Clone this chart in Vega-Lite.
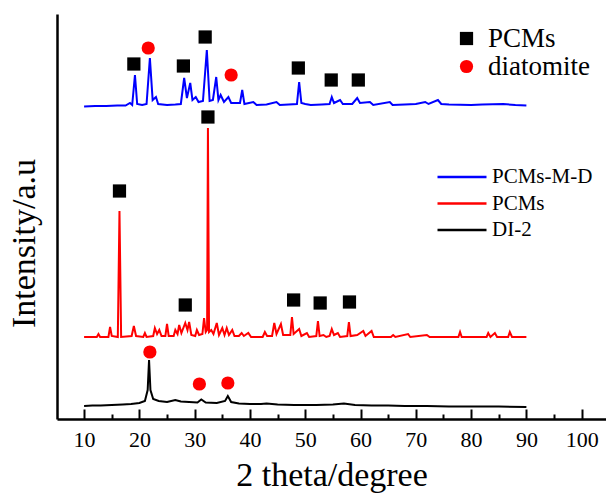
{
  "$schema": "https://vega.github.io/schema/vega-lite/v6.json",
  "width": 549,
  "height": 405,
  "autosize": "none",
  "padding": {"left": 57, "top": 14, "right": 0, "bottom": 76},
  "background": "white",
  "config": {"view": {"stroke": null}, "font": "Liberation Serif"},
  "datasets": {
    "xrd": [
      {"x": 10, "y": 13, "s": "DI-2"}, {"x": 11.5, "y": 13.5, "s": "DI-2"}, {"x": 13, "y": 13.5, "s": "DI-2"}, {"x": 15, "y": 14, "s": "DI-2"}, {"x": 17, "y": 14.5, "s": "DI-2"}, {"x": 18.5, "y": 15, "s": "DI-2"}, {"x": 20, "y": 16, "s": "DI-2"}, {"x": 21, "y": 18, "s": "DI-2"}, {"x": 21.5, "y": 29, "s": "DI-2"}, {"x": 21.75, "y": 59, "s": "DI-2"}, {"x": 22.0, "y": 29, "s": "DI-2"}, {"x": 22.5, "y": 20, "s": "DI-2"}, {"x": 23.5, "y": 18, "s": "DI-2"}, {"x": 25, "y": 17, "s": "DI-2"}, {"x": 26.5, "y": 19, "s": "DI-2"}, {"x": 27.5, "y": 17.5, "s": "DI-2"}, {"x": 29, "y": 17, "s": "DI-2"}, {"x": 30.5, "y": 16.5, "s": "DI-2"}, {"x": 31.2, "y": 19.5, "s": "DI-2"}, {"x": 32, "y": 16.5, "s": "DI-2"}, {"x": 34, "y": 16, "s": "DI-2"}, {"x": 35.5, "y": 18, "s": "DI-2"}, {"x": 36.0, "y": 23, "s": "DI-2"}, {"x": 36.6, "y": 17, "s": "DI-2"}, {"x": 38, "y": 15.5, "s": "DI-2"}, {"x": 40, "y": 15, "s": "DI-2"}, {"x": 42, "y": 15, "s": "DI-2"}, {"x": 43, "y": 15.5, "s": "DI-2"}, {"x": 45, "y": 14.5, "s": "DI-2"}, {"x": 48, "y": 14, "s": "DI-2"}, {"x": 52, "y": 14, "s": "DI-2"}, {"x": 55, "y": 14.5, "s": "DI-2"}, {"x": 57, "y": 15.5, "s": "DI-2"}, {"x": 59, "y": 14, "s": "DI-2"}, {"x": 62, "y": 13.5, "s": "DI-2"}, {"x": 65, "y": 13.5, "s": "DI-2"}, {"x": 68, "y": 13, "s": "DI-2"}, {"x": 72, "y": 13, "s": "DI-2"}, {"x": 76, "y": 12.5, "s": "DI-2"}, {"x": 80, "y": 12.5, "s": "DI-2"}, {"x": 85, "y": 12.5, "s": "DI-2"}, {"x": 90, "y": 12, "s": "DI-2"},

      {"x": 10, "y": 82, "s": "PCMs"}, {"x": 12.3, "y": 82, "s": "PCMs"}, {"x": 12.6, "y": 85, "s": "PCMs"}, {"x": 12.9, "y": 82, "s": "PCMs"}, {"x": 14.4, "y": 82, "s": "PCMs"}, {"x": 14.7, "y": 92, "s": "PCMs"}, {"x": 15.0, "y": 83, "s": "PCMs"}, {"x": 16.1, "y": 82, "s": "PCMs"}, {"x": 16.4, "y": 208, "s": "PCMs"}, {"x": 16.7, "y": 82, "s": "PCMs"}, {"x": 18.6, "y": 83, "s": "PCMs"}, {"x": 19.0, "y": 93, "s": "PCMs"}, {"x": 19.4, "y": 83, "s": "PCMs"}, {"x": 20.7, "y": 82, "s": "PCMs"}, {"x": 21.0, "y": 86, "s": "PCMs"}, {"x": 21.3, "y": 82, "s": "PCMs"}, {"x": 22.5, "y": 83, "s": "PCMs"}, {"x": 22.8, "y": 91, "s": "PCMs"}, {"x": 23.2, "y": 85, "s": "PCMs"}, {"x": 23.6, "y": 89, "s": "PCMs"}, {"x": 24.0, "y": 83, "s": "PCMs"}, {"x": 24.7, "y": 83, "s": "PCMs"}, {"x": 25.0, "y": 95, "s": "PCMs"}, {"x": 25.3, "y": 83, "s": "PCMs"}, {"x": 26.2, "y": 83, "s": "PCMs"}, {"x": 26.5, "y": 89, "s": "PCMs"}, {"x": 26.9, "y": 85, "s": "PCMs"}, {"x": 27.2, "y": 94, "s": "PCMs"}, {"x": 27.6, "y": 86, "s": "PCMs"}, {"x": 28.3, "y": 96, "s": "PCMs"}, {"x": 28.7, "y": 89, "s": "PCMs"}, {"x": 29.0, "y": 97, "s": "PCMs"}, {"x": 29.4, "y": 84, "s": "PCMs"}, {"x": 30.1, "y": 83, "s": "PCMs"}, {"x": 30.4, "y": 89, "s": "PCMs"}, {"x": 30.8, "y": 84, "s": "PCMs"}, {"x": 31.4, "y": 85, "s": "PCMs"}, {"x": 31.7, "y": 101, "s": "PCMs"}, {"x": 32.0, "y": 87, "s": "PCMs"}, {"x": 32.25, "y": 89, "s": "PCMs"}, {"x": 32.4, "y": 291, "s": "PCMs"}, {"x": 32.6, "y": 87, "s": "PCMs"}, {"x": 33.0, "y": 89, "s": "PCMs"}, {"x": 33.4, "y": 85, "s": "PCMs"}, {"x": 34.0, "y": 96, "s": "PCMs"}, {"x": 34.4, "y": 84, "s": "PCMs"}, {"x": 35.0, "y": 91, "s": "PCMs"}, {"x": 35.4, "y": 84, "s": "PCMs"}, {"x": 35.8, "y": 91, "s": "PCMs"}, {"x": 36.2, "y": 84, "s": "PCMs"}, {"x": 36.8, "y": 89, "s": "PCMs"}, {"x": 37.2, "y": 83, "s": "PCMs"}, {"x": 38.0, "y": 83, "s": "PCMs"}, {"x": 38.5, "y": 86, "s": "PCMs"}, {"x": 38.9, "y": 83, "s": "PCMs"}, {"x": 39.7, "y": 86, "s": "PCMs"}, {"x": 40.2, "y": 82, "s": "PCMs"}, {"x": 42.3, "y": 82, "s": "PCMs"}, {"x": 42.7, "y": 87, "s": "PCMs"}, {"x": 43.1, "y": 83, "s": "PCMs"}, {"x": 44.0, "y": 83, "s": "PCMs"}, {"x": 44.4, "y": 96, "s": "PCMs"}, {"x": 44.8, "y": 85, "s": "PCMs"}, {"x": 45.6, "y": 95, "s": "PCMs"}, {"x": 46.0, "y": 84, "s": "PCMs"}, {"x": 47.3, "y": 84, "s": "PCMs"}, {"x": 47.6, "y": 102, "s": "PCMs"}, {"x": 47.9, "y": 85, "s": "PCMs"}, {"x": 48.9, "y": 90, "s": "PCMs"}, {"x": 49.3, "y": 83, "s": "PCMs"}, {"x": 50.3, "y": 86, "s": "PCMs"}, {"x": 50.7, "y": 82, "s": "PCMs"}, {"x": 52.0, "y": 83, "s": "PCMs"}, {"x": 52.3, "y": 98, "s": "PCMs"}, {"x": 52.6, "y": 83, "s": "PCMs"}, {"x": 53.3, "y": 84, "s": "PCMs"}, {"x": 53.8, "y": 82, "s": "PCMs"}, {"x": 54.4, "y": 83, "s": "PCMs"}, {"x": 54.8, "y": 90, "s": "PCMs"}, {"x": 55.2, "y": 84, "s": "PCMs"}, {"x": 55.9, "y": 86, "s": "PCMs"}, {"x": 56.3, "y": 82, "s": "PCMs"}, {"x": 57.6, "y": 83, "s": "PCMs"}, {"x": 57.9, "y": 97, "s": "PCMs"}, {"x": 58.2, "y": 83, "s": "PCMs"}, {"x": 59.4, "y": 84, "s": "PCMs"}, {"x": 60.5, "y": 88, "s": "PCMs"}, {"x": 60.9, "y": 83, "s": "PCMs"}, {"x": 62.0, "y": 88, "s": "PCMs"}, {"x": 62.4, "y": 82, "s": "PCMs"}, {"x": 65.5, "y": 82, "s": "PCMs"}, {"x": 65.9, "y": 84, "s": "PCMs"}, {"x": 66.3, "y": 82, "s": "PCMs"}, {"x": 68.6, "y": 85, "s": "PCMs"}, {"x": 69.0, "y": 82, "s": "PCMs"}, {"x": 72.0, "y": 84, "s": "PCMs"}, {"x": 72.5, "y": 82, "s": "PCMs"}, {"x": 77.7, "y": 82, "s": "PCMs"}, {"x": 78.0, "y": 87, "s": "PCMs"}, {"x": 78.3, "y": 82, "s": "PCMs"}, {"x": 82.8, "y": 82, "s": "PCMs"}, {"x": 83.1, "y": 86, "s": "PCMs"}, {"x": 83.5, "y": 82, "s": "PCMs"}, {"x": 84.3, "y": 86, "s": "PCMs"}, {"x": 84.7, "y": 82, "s": "PCMs"}, {"x": 86.7, "y": 82, "s": "PCMs"}, {"x": 87.0, "y": 87, "s": "PCMs"}, {"x": 87.4, "y": 82, "s": "PCMs"}, {"x": 90, "y": 82, "s": "PCMs"},

      {"x": 10, "y": 312.5, "s": "PCMs-M-D"}, {"x": 12, "y": 313, "s": "PCMs-M-D"}, {"x": 14, "y": 313, "s": "PCMs-M-D"}, {"x": 16, "y": 313.5, "s": "PCMs-M-D"}, {"x": 17.5, "y": 313.5, "s": "PCMs-M-D"}, {"x": 18.3, "y": 316, "s": "PCMs-M-D"}, {"x": 18.7, "y": 314, "s": "PCMs-M-D"}, {"x": 19.2, "y": 344, "s": "PCMs-M-D"}, {"x": 19.6, "y": 315, "s": "PCMs-M-D"}, {"x": 20.5, "y": 314, "s": "PCMs-M-D"}, {"x": 21.3, "y": 315, "s": "PCMs-M-D"}, {"x": 21.9, "y": 361, "s": "PCMs-M-D"}, {"x": 22.4, "y": 319, "s": "PCMs-M-D"}, {"x": 23.0, "y": 322, "s": "PCMs-M-D"}, {"x": 23.4, "y": 315, "s": "PCMs-M-D"}, {"x": 25, "y": 314, "s": "PCMs-M-D"}, {"x": 26.5, "y": 314.5, "s": "PCMs-M-D"}, {"x": 27.5, "y": 315, "s": "PCMs-M-D"}, {"x": 28.1, "y": 341, "s": "PCMs-M-D"}, {"x": 28.6, "y": 321, "s": "PCMs-M-D"}, {"x": 29.2, "y": 336, "s": "PCMs-M-D"}, {"x": 29.6, "y": 319, "s": "PCMs-M-D"}, {"x": 30.2, "y": 322, "s": "PCMs-M-D"}, {"x": 30.7, "y": 317, "s": "PCMs-M-D"}, {"x": 31.5, "y": 318, "s": "PCMs-M-D"}, {"x": 32.2, "y": 369, "s": "PCMs-M-D"}, {"x": 32.7, "y": 318, "s": "PCMs-M-D"}, {"x": 33.3, "y": 319, "s": "PCMs-M-D"}, {"x": 33.9, "y": 342, "s": "PCMs-M-D"}, {"x": 34.3, "y": 319, "s": "PCMs-M-D"}, {"x": 34.7, "y": 324, "s": "PCMs-M-D"}, {"x": 35.3, "y": 317, "s": "PCMs-M-D"}, {"x": 36.1, "y": 322, "s": "PCMs-M-D"}, {"x": 36.6, "y": 316, "s": "PCMs-M-D"}, {"x": 38.2, "y": 316, "s": "PCMs-M-D"}, {"x": 38.6, "y": 329, "s": "PCMs-M-D"}, {"x": 39.0, "y": 315, "s": "PCMs-M-D"}, {"x": 40.6, "y": 317, "s": "PCMs-M-D"}, {"x": 41.2, "y": 314, "s": "PCMs-M-D"}, {"x": 43, "y": 314.5, "s": "PCMs-M-D"}, {"x": 44.8, "y": 317, "s": "PCMs-M-D"}, {"x": 45.4, "y": 314, "s": "PCMs-M-D"}, {"x": 47, "y": 314.5, "s": "PCMs-M-D"}, {"x": 48.5, "y": 315, "s": "PCMs-M-D"}, {"x": 48.9, "y": 337, "s": "PCMs-M-D"}, {"x": 49.3, "y": 316, "s": "PCMs-M-D"}, {"x": 50, "y": 315, "s": "PCMs-M-D"}, {"x": 51, "y": 314, "s": "PCMs-M-D"}, {"x": 53, "y": 314.5, "s": "PCMs-M-D"}, {"x": 54.4, "y": 315, "s": "PCMs-M-D"}, {"x": 54.8, "y": 322, "s": "PCMs-M-D"}, {"x": 55.2, "y": 316, "s": "PCMs-M-D"}, {"x": 56.3, "y": 319, "s": "PCMs-M-D"}, {"x": 56.8, "y": 315, "s": "PCMs-M-D"}, {"x": 58.5, "y": 315, "s": "PCMs-M-D"}, {"x": 59.4, "y": 321, "s": "PCMs-M-D"}, {"x": 59.9, "y": 316, "s": "PCMs-M-D"}, {"x": 61.7, "y": 317, "s": "PCMs-M-D"}, {"x": 62.3, "y": 314, "s": "PCMs-M-D"}, {"x": 65.3, "y": 317, "s": "PCMs-M-D"}, {"x": 65.8, "y": 314, "s": "PCMs-M-D"}, {"x": 68, "y": 314.5, "s": "PCMs-M-D"}, {"x": 70, "y": 315, "s": "PCMs-M-D"}, {"x": 71.7, "y": 317, "s": "PCMs-M-D"}, {"x": 72.3, "y": 315, "s": "PCMs-M-D"}, {"x": 74.0, "y": 319, "s": "PCMs-M-D"}, {"x": 74.6, "y": 315, "s": "PCMs-M-D"}, {"x": 76, "y": 314.5, "s": "PCMs-M-D"}, {"x": 80, "y": 314, "s": "PCMs-M-D"}, {"x": 82, "y": 314.5, "s": "PCMs-M-D"}, {"x": 85.8, "y": 315, "s": "PCMs-M-D"}, {"x": 88, "y": 314, "s": "PCMs-M-D"}, {"x": 90, "y": 313.5, "s": "PCMs-M-D"}
    ],
    "marks": [
      {"x": 19.0, "y": 355, "m": "PCMs"}, {"x": 21.6, "y": 371, "m": "diatomite"}, {"x": 27.96, "y": 353, "m": "PCMs"}, {"x": 31.9, "y": 382, "m": "PCMs"}, {"x": 36.6, "y": 344, "m": "diatomite"}, {"x": 48.75, "y": 351, "m": "PCMs"}, {"x": 54.7, "y": 339, "m": "PCMs"}, {"x": 59.6, "y": 339, "m": "PCMs"},
      {"x": 32.4, "y": 302, "m": "PCMs"}, {"x": 16.4, "y": 228, "m": "PCMs"}, {"x": 28.3, "y": 114, "m": "PCMs"}, {"x": 47.9, "y": 119, "m": "PCMs"}, {"x": 52.7, "y": 116, "m": "PCMs"}, {"x": 58.0, "y": 117, "m": "PCMs"},
      {"x": 21.9, "y": 67, "m": "diatomite"}, {"x": 30.85, "y": 35, "m": "diatomite"}, {"x": 36.0, "y": 36, "m": "diatomite"}
    ]
  },
  "layer": [
    {
      "data": {"name": "xrd"},
      "mark": {"type": "line", "strokeWidth": 2, "interpolate": "linear"},
      "encoding": {
        "x": {
          "field": "x", "type": "quantitative",
          "scale": {"domain": [5.1, 104.4], "nice": false, "zero": false},
          "axis": {
            "orient": "bottom",
            "values": [10, 20, 30, 40, 50, 60, 70, 80, 90, 100],
            "tickSize": -10, "tickWidth": 2, "tickColor": "black",
            "domainColor": "black", "domainWidth": 2.5,
            "grid": false,
            "labelFont": "Liberation Serif", "labelFontSize": 22, "labelColor": "black", "labelPadding": 20,
            "labelFlush": false, "labelOverlap": false,
            "title": "2 theta/degree",
            "titleFont": "Liberation Serif", "titleFontSize": 34, "titleFontWeight": "normal", "titleColor": "black", "titlePadding": 8
          }
        },
        "y": {
          "field": "y", "type": "quantitative",
          "scale": {"domain": [0, 405], "nice": false, "zero": false},
          "axis": {
            "orient": "left", "ticks": false, "labels": false, "grid": false,
            "domainColor": "black", "domainWidth": 2.5,
            "title": "Intensity/a.u",
            "titleFont": "Liberation Serif", "titleFontSize": 34, "titleFontWeight": "normal", "titleColor": "black",
            "titleAngle": -90, "titleBaseline": "middle", "titleAlign": "center", "titleX": -33, "titleY": 229
          }
        },
        "color": {
          "field": "s", "type": "nominal",
          "scale": {"domain": ["PCMs-M-D", "PCMs", "DI-2"], "range": ["#0000ff", "#ff0000", "#000000"]},
          "legend": {
            "orient": "none", "legendX": 379, "legendY": 150, "title": null,
            "symbolType": "stroke", "symbolSize": 2401, "symbolStrokeWidth": 2.5,
            "labelFont": "Liberation Serif", "labelFontSize": 21, "labelColor": "black", "labelOffset": 4,
            "clipHeight": 26, "rowPadding": 0.5, "padding": 0
          }
        }
      }
    },
    {
      "data": {"name": "marks"},
      "mark": {"type": "point", "filled": true, "opacity": 1, "size": 175},
      "encoding": {
        "x": {
          "field": "x", "type": "quantitative",
          "axis": {
            "orient": "bottom",
            "values": [15, 25, 35, 45, 55, 65, 75, 85, 95],
            "tickSize": -5, "tickWidth": 2, "tickColor": "black",
            "domain": false, "labels": false, "grid": false, "title": null
          }
        },
        "y": {
          "field": "y", "type": "quantitative",
          "axis": {
            "orient": "left", "ticks": false, "labels": false, "grid": false,
            "domainColor": "black", "domainWidth": 2.5,
            "title": "Intensity/a.u",
            "titleFont": "Liberation Serif", "titleFontSize": 34, "titleFontWeight": "normal", "titleColor": "black",
            "titleAngle": -90, "titleBaseline": "middle", "titleAlign": "center", "titleX": -33, "titleY": 229
          }
        },
        "color": {
          "field": "m", "type": "nominal",
          "scale": {"domain": ["PCMs", "diatomite"], "range": ["#000000", "#ff0000"]},
          "legend": {
            "orient": "none", "legendX": 396, "legendY": 11, "title": null,
            "symbolSize": 175, "symbolStrokeWidth": 0,
            "labelFont": "Liberation Serif", "labelFontSize": 27, "labelColor": "black", "labelOffset": 8,
            "rowPadding": 0, "padding": 0
          }
        },
        "shape": {
          "field": "m", "type": "nominal",
          "scale": {"domain": ["PCMs", "diatomite"], "range": ["square", "circle"]},
          "legend": {
            "orient": "none", "legendX": 396, "legendY": 11, "title": null,
            "symbolSize": 175,
            "labelFont": "Liberation Serif", "labelFontSize": 27, "labelColor": "black", "labelOffset": 8,
            "rowPadding": 0, "padding": 0
          }
        }
      }
    },
    {
      "mark": {"type": "rule", "color": "black", "strokeWidth": 2.5},
      "encoding": {
        "y": {
          "datum": 405, "type": "quantitative",
          "axis": {
            "orient": "left", "ticks": false, "labels": false, "grid": false,
            "domainColor": "black", "domainWidth": 2.5,
            "title": "Intensity/a.u",
            "titleFont": "Liberation Serif", "titleFontSize": 34, "titleFontWeight": "normal", "titleColor": "black",
            "titleAngle": -90, "titleBaseline": "middle", "titleAlign": "center", "titleX": -33, "titleY": 229
          }
        }
      }
    }
  ],
  "resolve": {"scale": {"color": "independent", "shape": "independent"}, "axis": {"x": "independent"}}
}
